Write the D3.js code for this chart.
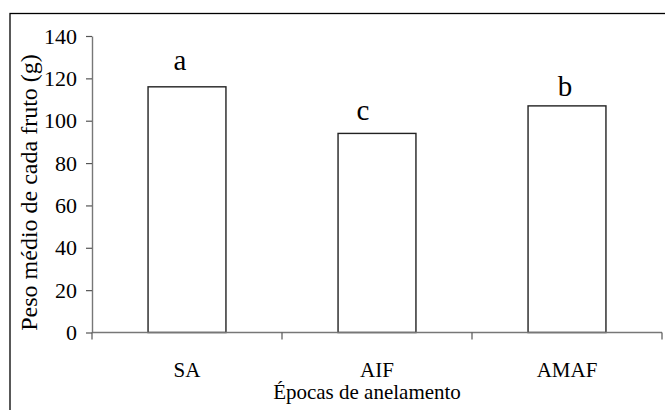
<!DOCTYPE html>
<html>
<head>
<meta charset="utf-8">
<script src="https://cdn.jsdelivr.net/npm/d3@7/dist/d3.min.js"></script>
<style>
  html, body { margin: 0; padding: 0; background: #fff; }
  svg { display: block; }
</style>
</head>
<body>
<svg id="chart" width="665" height="410" font-family="Liberation Serif"></svg>
<script>
// Fruit weight by girdling period
const categories = ["SA", "AIF", "AMAF"];
const values = [116, 94, 107];
const letters = ["a", "c", "b"];
const yTicks = [0, 20, 40, 60, 80, 100, 120, 140];
const xTitle = "Épocas de anelamento";
const yTitle = "Peso médio de cada fruto (g)";

// hand placement of the significance letters above each bar
const letterDx = [-7, -14, -2];
const letterGap = [17, 13, 10];

const FONT = "Liberation Serif";
const svg = d3.select("#chart");
const plotLeft = 92, plotRight = 662, plotTop = 36, plotBottom = 332.5;

// outer frame (runs off the right and bottom edges)
svg.append("rect")
  .attr("x", 10).attr("y", 13.5)
  .attr("width", 700).attr("height", 450)
  .attr("fill", "none").attr("stroke", "#000").attr("stroke-width", 1.3);

const x = d3.scaleBand().domain(categories).range([plotLeft, plotRight])
  .paddingInner(0.59).paddingOuter(0.295);
const y = d3.scaleLinear().domain([0, 140]).range([plotBottom, plotTop]);

// y axis
const yAxis = d3.axisLeft(y).tickValues(yTicks).tickSize(6).tickPadding(9).tickSizeOuter(0);
const gy = svg.append("g").attr("transform", `translate(${plotLeft},0)`).call(yAxis);
gy.attr("font-family", FONT).attr("font-size", 22);
gy.select(".domain").attr("stroke", "#777").attr("stroke-width", 1.4);
gy.selectAll(".tick line").attr("stroke", "#555").attr("stroke-width", 1.2);
gy.selectAll(".tick text").attr("font-family", FONT).attr("font-size", 22).attr("fill", "#000");

// bars
svg.append("g").selectAll("rect").data(values).join("rect")
  .attr("x", (d, i) => x(categories[i]))
  .attr("y", d => y(d))
  .attr("width", x.bandwidth())
  .attr("height", d => y(0) - y(d))
  .attr("fill", "#fff").attr("stroke", "#222").attr("stroke-width", 1.4);

// x axis: baseline with ticks at the category boundaries
const bounds = d3.range(categories.length + 1).map(i => plotLeft + i * x.step());
const gx = svg.append("g");
gx.append("line").attr("x1", plotLeft).attr("x2", plotRight).attr("y1", plotBottom).attr("y2", plotBottom)
  .attr("stroke", "#777").attr("stroke-width", 1.4);
gx.selectAll("line.tk").data(bounds).join("line").attr("class", "tk")
  .attr("x1", d => d).attr("x2", d => d).attr("y1", plotBottom).attr("y2", plotBottom + 7)
  .attr("stroke", "#555").attr("stroke-width", 1.2);
gx.selectAll("text").data(categories).join("text")
  .attr("x", d => x(d) + x.bandwidth() / 2)
  .attr("y", 377)
  .attr("text-anchor", "middle")
  .attr("font-family", FONT).attr("font-size", 21)
  .text(d => d);

// significance letters
svg.append("g").selectAll("text").data(letters).join("text")
  .attr("x", (d, i) => x(categories[i]) + x.bandwidth() / 2 + letterDx[i])
  .attr("y", (d, i) => y(values[i]) - letterGap[i])
  .attr("text-anchor", "middle")
  .attr("font-family", FONT).attr("font-size", 29)
  .text(d => d);

// axis titles
svg.append("text")
  .attr("x", 367).attr("y", 399)
  .attr("text-anchor", "middle")
  .attr("font-family", FONT).attr("font-size", 21)
  .text(xTitle);

svg.append("text")
  .attr("transform", "translate(37,192.5) rotate(-90)")
  .attr("text-anchor", "middle")
  .attr("font-family", FONT).attr("font-size", 24)
  .text(yTitle);
</script>
</body>
</html>
